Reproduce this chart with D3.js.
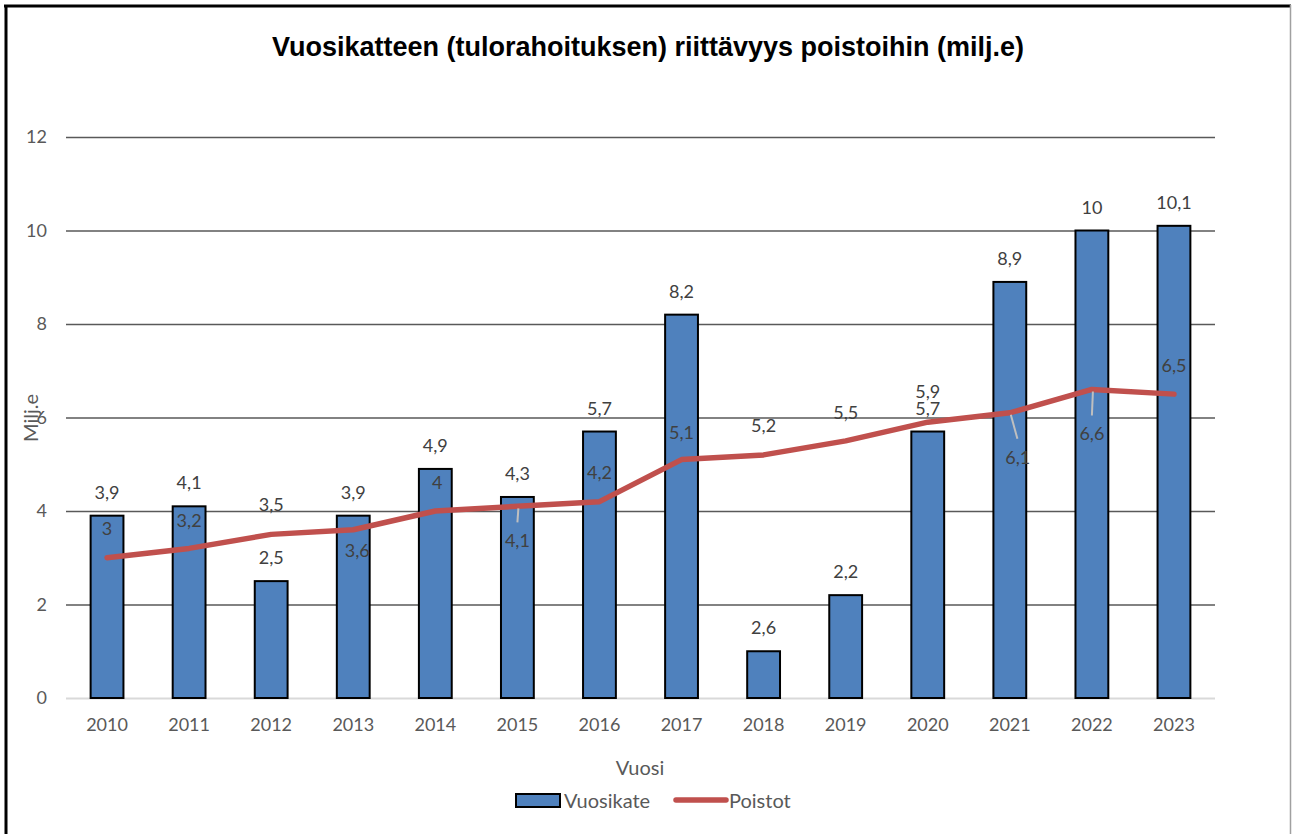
<!DOCTYPE html>
<head>
  <meta charset="utf-8">
  <script src="https://cdn.jsdelivr.net/npm/d3@7"></script>
  <style>
    body { margin: 0; background: white; }
    text { font-family: Lato, "Open Sans", sans-serif; }
  </style>
</head>
<body>
  <div id="chartDiv"></div>
  <script>

  var years = ["2010","2011","2012","2013","2014","2015","2016","2017","2018","2019","2020","2021","2022","2023"];
  var vuosikate = [3.9, 4.1, 2.5, 3.9, 4.9, 4.3, 5.7, 8.2, 1.0, 2.2, 5.7, 8.9, 10, 10.1];
  var vuosikateLabels = ["3,9","4,1","2,5","3,9","4,9","4,3","5,7","8,2","2,6","2,2","5,7","8,9","10","10,1"];
  var poistot = [3, 3.2, 3.5, 3.6, 4, 4.1, 4.2, 5.1, 5.2, 5.5, 5.9, 6.1, 6.6, 6.5];
  var yTicks = [0, 2, 4, 6, 8, 10, 12];

  // where the Poistot labels sit relative to their point (px)
  var poistotLabelDx = [0, 0, 0, 4, 2, 0, 0, 0, 0, 0, 0, 8, 0, 0];
  var poistotLabelDy = [-30, -28, -30, 20, -29, 34, -30, -28, -30, -29, -31, 44, 44, -29];
  var leaderLines = [false, false, false, false, false, true, false, false, false, false, false, true, true, false];

  var width = 1292;
  var height = 834;

  var svg = d3.select("#chartDiv").append("svg")
    .attr("width", width)
    .attr("height", height);

  svg.append("rect")
    .attr("width", width)
    .attr("height", height)
    .style("fill", "white");

  // frame
  svg.append("line").attr("x1", 4).attr("x2", 1291).attr("y1", 6).attr("y2", 6)
    .style("stroke", "black").style("stroke-width", 3);
  svg.append("line").attr("x1", 6).attr("x2", 6).attr("y1", 5).attr("y2", height)
    .style("stroke", "black").style("stroke-width", 3);
  svg.append("line").attr("x1", 1290.5).attr("x2", 1290.5).attr("y1", 5).attr("y2", height)
    .style("stroke", "#a0a0a0").style("stroke-width", 1.5);

  var plotLeft = 66, plotRight = 1215, plotTop = 137, plotBottom = 698;

  var x = d3.scaleBand()
    .domain(years)
    .range([plotLeft, plotRight])
    .padding(0);

  var y = d3.scaleLinear()
    .domain([0, 12])
    .range([plotBottom, plotTop]);

  var fmt = d3.formatLocale({decimal: ",", thousands: " ", grouping: [3], currency: ["", "€"]}).format("~g");

  // gridlines + y tick labels
  var yAxis = svg.append("g")
    .attr("transform", "translate(" + plotLeft + ",0)")
    .call(d3.axisLeft(y).tickValues(yTicks).tickSize(-(plotRight - plotLeft)).tickPadding(19).tickFormat(d3.format("d")));
  yAxis.select(".domain").remove();
  yAxis.selectAll(".tick line")
    .style("stroke", function(d) { return d == 0 ? "#d9d9d9" : "#595959"; })
    .style("stroke-width", function(d) { return d == 0 ? 2 : 1.3; });
  yAxis.selectAll(".tick text")
    .style("font-family", "Lato, sans-serif")
    .style("font-size", "18px")
    .style("fill", "#595959");

  // x tick labels
  var xAxis = svg.append("g")
    .attr("transform", "translate(0," + plotBottom + ")")
    .call(d3.axisBottom(x).tickSize(0).tickPadding(20));
  xAxis.select(".domain").remove();
  xAxis.selectAll(".tick text")
    .style("font-family", "Lato, sans-serif")
    .style("font-size", "18px")
    .style("fill", "#595959");

  var barW = x.bandwidth() * 0.4;

  // bars
  svg.append("g").selectAll("rect")
    .data(vuosikate)
    .enter()
    .append("rect")
    .attr("x", function(d, i) { return x(years[i]) + (x.bandwidth() - barW) / 2; })
    .attr("y", function(d) { return y(d); })
    .attr("width", barW)
    .attr("height", function(d) { return y(0) - y(d); })
    .style("fill", "#4F81BD")
    .style("stroke", "black")
    .style("stroke-width", 2);

  // line
  var line = d3.line()
    .x(function(d, i) { return x(years[i]) + x.bandwidth() / 2; })
    .y(function(d) { return y(d); });

  svg.append("path")
    .datum(poistot)
    .attr("d", line)
    .style("fill", "none")
    .style("stroke", "#C0504D")
    .style("stroke-width", 5.5)
    .style("stroke-linejoin", "round")
    .style("stroke-linecap", "round");

  // leader lines
  var leaderIdx = d3.range(poistot.length).filter(function(i) { return leaderLines[i]; });
  svg.append("g").selectAll("line")
    .data(leaderIdx)
    .enter()
    .append("line")
    .attr("x1", function(i) { return x(years[i]) + x.bandwidth() / 2 + 1; })
    .attr("y1", function(i) { return y(poistot[i]) + 2; })
    .attr("x2", function(i) { return x(years[i]) + x.bandwidth() / 2 + poistotLabelDx[i] * 0.95; })
    .attr("y2", function(i) { return y(poistot[i]) + poistotLabelDy[i] - 18; })
    .style("stroke", "#bfbfbf")
    .style("stroke-width", 2);

  // bar labels
  svg.append("g").selectAll("text")
    .data(vuosikate)
    .enter()
    .append("text")
    .attr("x", function(d, i) { return x(years[i]) + x.bandwidth() / 2; })
    .attr("y", function(d) { return y(d) - 24; })
    .attr("text-anchor", "middle")
    .attr("dominant-baseline", "central")
    .style("font-size", "18px")
    .style("fill", "#404040")
    .text(function(d, i) { return vuosikateLabels[i]; });

  // line labels
  svg.append("g").selectAll("text")
    .data(poistot)
    .enter()
    .append("text")
    .attr("x", function(d, i) { return x(years[i]) + x.bandwidth() / 2 + poistotLabelDx[i]; })
    .attr("y", function(d, i) { return y(d) + poistotLabelDy[i]; })
    .attr("text-anchor", "middle")
    .attr("dominant-baseline", "central")
    .style("font-size", "18px")
    .style("fill", "#404040")
    .text(function(d) { return fmt(d); });

  // title
  svg.append("text")
    .attr("x", 648)
    .attr("y", 47)
    .attr("text-anchor", "middle")
    .attr("dominant-baseline", "central")
    .style("font-family", "'Liberation Sans', Arial, sans-serif")
    .style("font-weight", "bold")
    .style("font-size", "27px")
    .style("fill", "black")
    .text("Vuosikatteen (tulorahoituksen) riittävyys poistoihin (milj.e)");

  // axis titles
  svg.append("text")
    .attr("transform", "translate(30,418) rotate(-90)")
    .attr("text-anchor", "middle")
    .attr("dominant-baseline", "central")
    .style("font-size", "20px")
    .style("fill", "#595959")
    .text("Milj.e");

  svg.append("text")
    .attr("x", 640)
    .attr("y", 767)
    .attr("text-anchor", "middle")
    .attr("dominant-baseline", "central")
    .style("font-size", "20px")
    .style("fill", "#595959")
    .text("Vuosi");

  // legend
  var legend = svg.append("g");
  legend.append("rect")
    .attr("x", 516).attr("y", 794).attr("width", 44).attr("height", 13)
    .style("fill", "#4F81BD").style("stroke", "black").style("stroke-width", 2);
  legend.append("text")
    .attr("x", 564).attr("y", 800)
    .attr("dominant-baseline", "central")
    .style("font-size", "20px").style("fill", "#595959")
    .text("Vuosikate");
  legend.append("line")
    .attr("x1", 676).attr("x2", 726).attr("y1", 800).attr("y2", 800)
    .style("stroke", "#C0504D").style("stroke-width", 5.5).style("stroke-linecap", "round");
  legend.append("text")
    .attr("x", 729).attr("y", 800)
    .attr("dominant-baseline", "central")
    .style("font-size", "20px").style("fill", "#595959")
    .text("Poistot");

  </script>
</body>
